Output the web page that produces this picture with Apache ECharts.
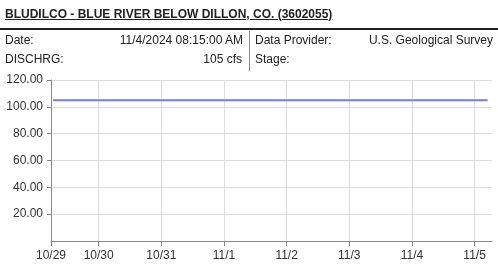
<!DOCTYPE html>
<html>
<head>
<meta charset="utf-8">
<script src="https://cdn.jsdelivr.net/npm/echarts@6/dist/echarts.min.js"></script>
<style>
  html, body { margin:0; padding:0; background:#fff; }
  body { width:498px; height:270px; position:relative; overflow:hidden; font-family:"Liberation Sans", Arial, sans-serif; color:#222; }
  #chart { position:absolute; left:0; top:0; width:498px; height:270px; }
  .t { position:absolute; font-size:12px; line-height:14px; white-space:nowrap; }
</style>
</head>
<body>
<div id="chart"></div>
<div class="t" style="left:5px;top:7px;font-weight:bold;text-decoration:underline;">BLUDILCO - BLUE RIVER BELOW DILLON, CO. (3602055)</div>
<div style="position:absolute;left:0;top:28px;width:498px;height:2px;background:#222;"></div>
<div class="t" style="left:5px;top:33px;">Date:</div>
<div class="t" style="right:255px;top:33px;">11/4/2024 08:15:00 AM</div>
<div class="t" style="left:5px;top:52px;">DISCHRG:</div>
<div class="t" style="right:256px;top:52px;">105 cfs</div>
<div style="position:absolute;left:249px;top:31px;width:1px;height:40px;background:#888;"></div>
<div class="t" style="left:255px;top:33px;">Data Provider:</div>
<div class="t" style="right:5px;top:33px;">U.S. Geological Survey</div>
<div class="t" style="left:255px;top:52px;">Stage:</div>
<script>
// Data (local time)
const times = [
  [2024,9,29,6,30],[2024,9,30,0,0],[2024,9,31,0,0],[2024,10,1,0,0],
  [2024,10,2,0,0],[2024,10,3,0,0],[2024,10,4,0,0],[2024,10,5,0,0],[2024,10,5,5,0]
];
const discharge = [105,105,105,105,105,105,105,105,105];
const tickDates = [
  [2024,9,29,5,45],[2024,9,30,0,0],[2024,9,31,0,0],[2024,10,1,0,0],
  [2024,10,2,0,0],[2024,10,3,0,0],[2024,10,4,0,0],[2024,10,5,0,0]
];
const axisMin = [2024,9,29,5,45];
const axisMax = [2024,10,5,6,40];
const yTicks = [0,20,40,60,80,100,120];

const ts = a => new Date(a[0],a[1],a[2],a[3],a[4]).getTime();
const tickVals = tickDates.map(ts);
const seriesData = times.map((t,i) => [ts(t), discharge[i]]);

const chart = echarts.init(document.getElementById('chart'), null, {renderer:'canvas'});
chart.setOption({
  animation:false,
  grid:{left:51, top:80, right:6, bottom:29, containLabel:false},
  xAxis:{
    type:'value', min:ts(axisMin), max:ts(axisMax), scale:true,
    axisLine:{show:true, onZero:false, lineStyle:{color:'#888', width:1}},
    axisTick:{show:true, length:5, customValues:tickVals, lineStyle:{color:'#888'}},
    axisLabel:{customValues:tickVals, margin:9, color:'#333', fontSize:12, fontFamily:'Liberation Sans',
      formatter: v => { const d=new Date(v); return (d.getMonth()+1)+'/'+d.getDate(); }},
    splitLine:{show:true, lineStyle:{color:'#ddd', width:1}}
  },
  yAxis:{
    type:'value', min:yTicks[0], max:yTicks[yTicks.length-1], interval:20,
    axisLine:{show:true, lineStyle:{color:'#888', width:1}},
    axisTick:{show:true, length:4, inside:false, lineStyle:{color:'#888'}},
    axisLabel:{showMinLabel:false, margin:8, color:'#333', fontSize:12, fontFamily:'Liberation Sans',
      formatter: v => v.toFixed(2)},
    splitLine:{show:true, lineStyle:{color:'#ddd', width:1}}
  },
  series:[{
    type:'line', data:seriesData, showSymbol:false, symbol:'none',
    lineStyle:{color:'#7878f8', width:2}
  }]
});
</script>
</body>
</html>
